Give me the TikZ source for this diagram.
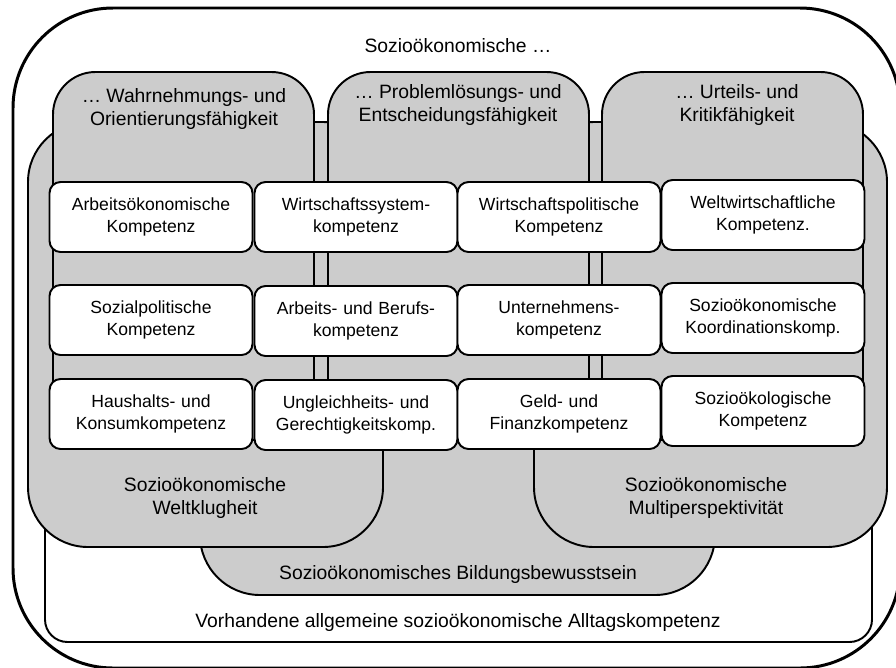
\documentclass[tikz,border=0pt]{standalone}
\usepackage{fontspec}
\setmainfont{Liberation Sans}
\usetikzlibrary{positioning}
\definecolor{RegionGray}{RGB}{204,204,204}

\begin{document}
\begin{tikzpicture}[x=0.02cm,y=-0.02cm,
  region/.style={draw=black,fill=RegionGray,line width=1.1pt,rounded corners=1.2cm},
  tab/.style={draw=black,fill=RegionGray,line width=1.1pt,rounded corners=0.85cm},
  komp/.style={draw=black,fill=white,line width=1.1pt,rounded corners=0.22cm,
               minimum width=4.06cm,minimum height=1.4cm,text width=3.9cm,
               align=center,inner sep=0pt,font=\fontsize{10}{13}\selectfont},
  lbl/.style={align=center,inner sep=0pt,font=\fontsize{11}{13.6}\selectfont},
]
\clip (0,0) rectangle (896,667);
\draw[fill=white,line width=1.7pt,rounded corners=2cm] (13,8) rectangle (900,668);
\draw[fill=white,line width=1.1pt,rounded corners=0.45cm] (45,220) rectangle (872,642);
\draw[region] (200,122) rectangle (715,595);
\draw[region] (28,122) rectangle (383,547);
\draw[region] (534,122) rectangle (887,547);
\foreach \x in {53,328,602}
  \draw[tab] (\x,72) rectangle ++(261,368);

\node[lbl] (title) at (458,46) {Sozioökonomische …};
\node[lbl] (wahr) at (184,109) {… Wahrnehmungs- und\\Orientierungsfähigkeit};
\node[lbl] (prob) at (458,105) {… Problemlösungs- und\\Entscheidungsfähigkeit};
\node[lbl] (urteil) at (737,105) {… Urteils- und\\Kritikfähigkeit};

\node[komp] (arbeit) at (151,217) {Arbeitsökonomische\\Kompetenz};
\node[komp] (wsys) at (356,217) {Wirtschaftssystem-\\kompetenz};
\node[komp] (wpol) at (559,217) {Wirtschaftspolitische\\Kompetenz};
\node[komp] (welt) at (763,215) {Weltwirtschaftliche\\Kompetenz.};
\node[komp] (sozpol) at (151,320) {Sozialpolitische\\Kompetenz};
\node[komp] (beruf) at (356,321) {Arbeits- und Berufs-\\kompetenz};
\node[komp] (untern) at (559,320) {Unternehmens-\\kompetenz};
\node[komp] (koord) at (763,318) {Sozioökonomische\\Koordinationskomp.};
\node[komp] (haus) at (151,414) {Haushalts- und\\Konsumkompetenz};
\node[komp] (gleich) at (356,415) {Ungleichheits- und\\Gerechtigkeitskomp.};
\node[komp] (geld) at (559,414) {Geld- und\\Finanzkompetenz};
\node[komp] (oeko) at (763,411) {Sozioökologische\\Kompetenz};

\node[lbl] (klug) at (205,498) {Sozioökonomische\\Weltklugheit};
\node[lbl] (multi) at (706,498) {Sozioökonomische\\Multiperspektivität};
\node[lbl] (bildung) at (458,574) {Sozioökonomisches Bildungsbewusstsein};
\node[lbl] (alltag) at (458,622) {Vorhandene allgemeine sozioökonomische Alltagskompetenz};
\end{tikzpicture}
\end{document}
